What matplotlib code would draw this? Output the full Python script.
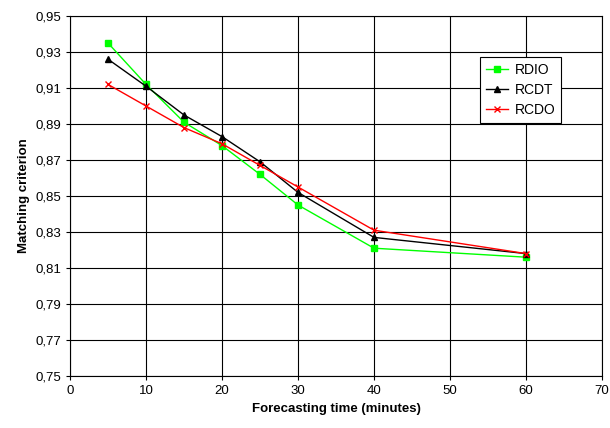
import matplotlib
matplotlib.use('Agg')
import matplotlib.pyplot as plt
from matplotlib.ticker import FuncFormatter

plt.rcParams['font.family'] = ['Liberation Sans', 'DejaVu Sans']

minutes = [5, 10, 15, 20, 25, 30, 40, 60]
rdio = [0.935, 0.912, 0.891, 0.878, 0.862, 0.845, 0.821, 0.816]
rcdt = [0.926, 0.911, 0.895, 0.883, 0.869, 0.852, 0.827, 0.818]
rcdo = [0.912, 0.900, 0.888, 0.879, 0.867, 0.855, 0.831, 0.818]

fig = plt.figure(figsize=(6.1, 4.28), dpi=100)
ax = fig.add_axes([70/610, 1 - 376/428, 532/610, 360/428])

ax.plot(minutes, rdio, color='#00ff00', marker='s', markersize=4, lw=1, label='RDIO')
ax.plot(minutes, rcdt, color='black', marker='^', markersize=4, lw=1, label='RCDT')
ax.plot(minutes, rcdo, color='red', marker='x', markersize=4, lw=1, label='RCDO')

ax.set_xlim(0, 70)
ax.set_ylim(0.75, 0.95)
ax.set_xticks(range(0, 71, 10))
ax.set_yticks([0.75 + 0.02 * i for i in range(11)])
ax.yaxis.set_major_formatter(FuncFormatter(lambda v, p: f'{v:.2f}'.replace('.', ',')))
ax.grid(True, color='black', lw=0.8)
ax.tick_params(labelsize=9.5, direction='out', length=3)
for s in ax.spines.values():
    s.set_linewidth(0.8)

ax.set_xlabel('Forecasting time (minutes)', fontsize=9.5, fontweight='bold')
ax.set_ylabel('Matching criterion', fontsize=9.5, fontweight='bold')

leg = ax.legend(loc='upper left', bbox_to_anchor=(0.771, 0.886), fontsize=10,
                fancybox=False, framealpha=1, edgecolor='black',
                handlelength=1.6, borderpad=0.4, labelspacing=0.45,
                borderaxespad=0, handletextpad=0.5)
leg.get_frame().set_linewidth(0.8)

fig.savefig('out.png', dpi=100)
